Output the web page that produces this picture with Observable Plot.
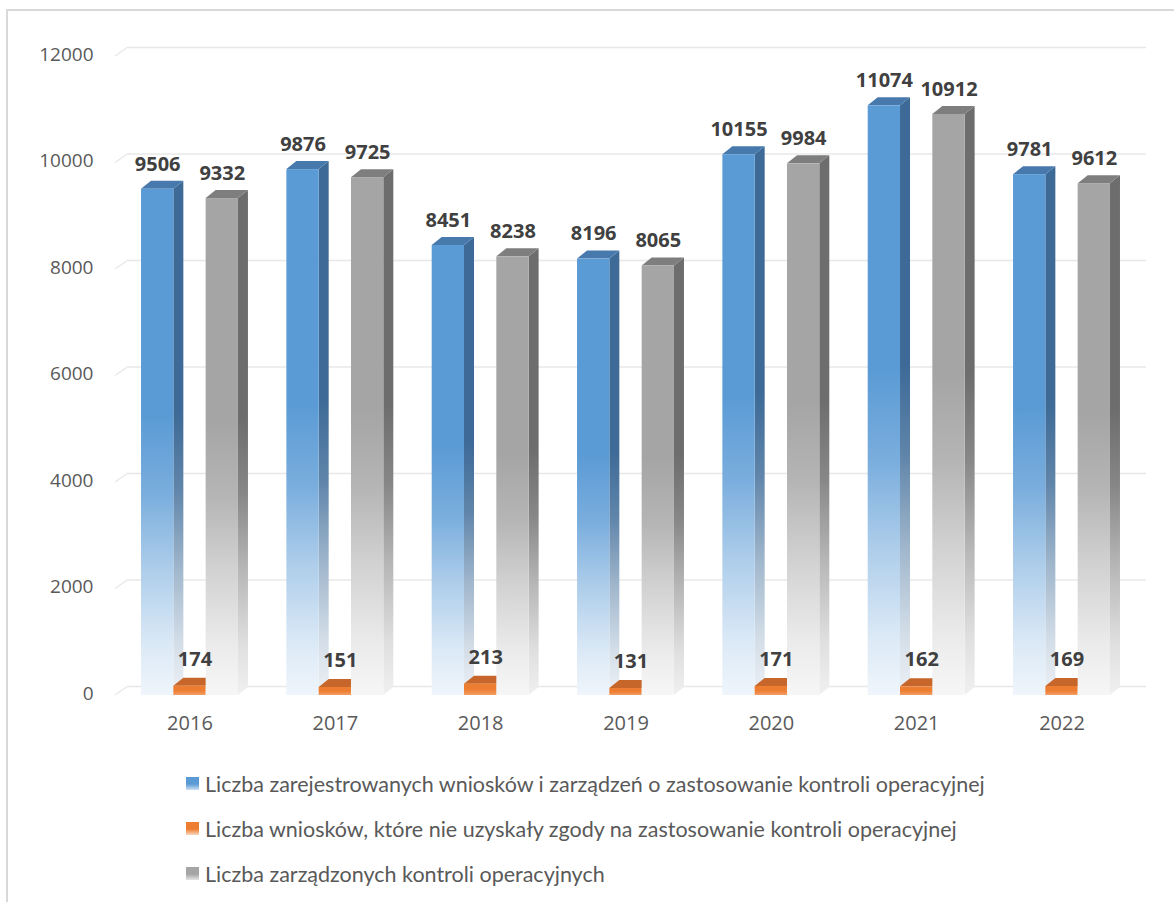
<!DOCTYPE html>
<html>
<head>
<meta charset="utf-8">
<script src="https://cdn.jsdelivr.net/npm/d3@7"></script>
<script src="https://cdn.jsdelivr.net/npm/@observablehq/plot@0.6"></script>
<style>
  html, body { margin: 0; padding: 0; background: #fff; overflow: hidden; width: 1174px; height: 902px; }
  #frame { position: absolute; left: 6px; top: 9px; width: 1200px; height: 1000px; border: 2px solid #d9d9d9; box-sizing: border-box; }
  #chart { position: absolute; left: 0; top: 0; }
  #legend { position: absolute; left: 186px; top: 770px; font-family: Lato, 'Open Sans', sans-serif; font-size: 21.5px; color: #595959; }
  .row { position: absolute; left: 0; white-space: nowrap; display: flex; align-items: center; height: 27px; }
  .sw { width: 13px; height: 13px; margin-right: 6px; flex: none; }
</style>
</head>
<body>
<div id="frame"></div>
<svg width="0" height="0" style="position:absolute">
  <defs id="grads"></defs>
</svg>
<div id="chart"></div>
<div id="legend"></div>
<script>
// ---- data ----
const years = ["2016", "2017", "2018", "2019", "2020", "2021", "2022"];
const registered = [9506, 9876, 8451, 8196, 10155, 11074, 9781];
const refused = [174, 151, 213, 131, 171, 162, 169];
const ordered = [9332, 9725, 8238, 8065, 9984, 10912, 9612];
const yTicks = [0, 2000, 4000, 6000, 8000, 10000, 12000];
const seriesNames = [
  "Liczba zarejestrowanych wniosków i zarządzeń o zastosowanie kontroli operacyjnej",
  "Liczba wniosków, które nie uzyskały zgody na zastosowanie kontroli operacyjnej",
  "Liczba zarządzonych kontroli operacyjnych"
];
const seriesColors = ["#5b9bd5", "#ed7d31", "#a5a5a5"];
const sideColors = ["#3d6a97", "#b65d22", "#6d6d6d"];
const topColors = ["#4879ad", "#c6662a", "#7e7e7e"];

// ---- gradients ----
const defs = d3.select("#grads");
function addGrad(id, color, stops) {
  const g = defs.append("linearGradient").attr("id", id)
    .attr("x1", 0).attr("y1", 0).attr("x2", 0).attr("y2", 1);
  for (const [off, t] of stops) {
    g.append("stop").attr("offset", off)
      .attr("stop-color", d3.interpolateRgb("#ffffff", color)(t));
  }
}
const fadeStops = [[0, 1], [0.45, 1], [0.6, 0.82], [0.75, 0.5], [0.9, 0.22], [1, 0.1]];
const orStops = [[0, 1], [0.5, 1], [1, 0.75]];
addGrad("gf0", seriesColors[0], fadeStops);
addGrad("gs0", sideColors[0], fadeStops);
addGrad("gf1", seriesColors[1], orStops);
addGrad("gs1", sideColors[1], orStops);
addGrad("gf2", seriesColors[2], fadeStops);
addGrad("gs2", sideColors[2], fadeStops);

// ---- rows ----
const seriesValues = [registered, refused, ordered];
const rows = seriesValues.map(vals => years.map((year, i) => ({year, value: vals[i]})));

// ---- geometry ----
const W = 1174, H = 760;
const xRange = [116.8, 1134.2];
const padIn = 0.333, padOut = 0.1667;
const step = (xRange[1] - xRange[0]) / (years.length - padIn + 2 * padOut);
const bw = step * (1 - padIn) / 3;
const DX = 10, DY = -8;

function faces(k) {
  return (index, scales) => {
    const g = d3.create("svg:g");
    const b = (scales.x.bandwidth ? scales.x.bandwidth() : bw * 3) / 3;
    for (const d of rows[k]) {
      const xl = scales.x(d.year) + k * b, xr = xl + b;
      const yt = scales.y(d.value), yb = scales.y(0);
      g.append("polygon")
        .attr("points", [[xr, yt], [xr + DX, yt + DY], [xr + DX, yb + DY], [xr, yb]].join(" "))
        .attr("fill", `url(#gs${k})`);
      g.append("polygon")
        .attr("points", [[xl, yt], [xl + DX, yt + DY], [xr + DX, yt + DY], [xr, yt]].join(" "))
        .attr("fill", topColors[k]);
    }
    return g.node();
  };
}

function slants(index, scales) {
  const g = d3.create("svg:g");
  for (const v of yTicks) {
    const y = scales.y(v);
    g.append("line").attr("x1", 115).attr("y1", y).attr("x2", 128).attr("y2", y + DY - 1)
      .attr("stroke", "#e8e8e8").attr("stroke-width", 1.4);
  }
  return g.node();
}

const barMarks = [];
for (let k = 0; k < 3; k++) {
  barMarks.push(faces(k));
  barMarks.push(Plot.barY(rows[k], {
    x: "year", y: "value",
    fill: `url(#gf${k})`,
    insetLeft: k * bw, insetRight: (2 - k) * bw
  }));
}

const labelDx = [-bw, 5, bw];
const labelDy = [-25, -27, -25];

const chart = Plot.plot({
  width: W,
  height: H,
  marginLeft: 128,
  marginRight: 28,
  marginTop: 0,
  marginBottom: 0,
  style: {fontFamily: "'Open Sans', sans-serif", background: "transparent", overflow: "visible"},
  x: {type: "band", domain: years, range: xRange, paddingInner: padIn, paddingOuter: padOut, round: false, axis: null},
  y: {domain: [0, 12000], range: [695, 56], axis: null},
  marks: [
    Plot.ruleY(yTicks, {dy: DY - 1, stroke: "#e8e8e8", strokeWidth: 1.4}),
    slants,
    ...barMarks,
    ...[0, 1, 2].map(k => Plot.text(rows[k], {
      x: "year", y: "value", text: d => String(d.value),
      dx: labelDx[k], dy: labelDy[k],
      fontSize: 20, fontWeight: "bold", fill: "#404040"
    })),
    Plot.text(yTicks, {
      y: d => d, text: d => String(d), frameAnchor: "left",
      dx: -35, dy: -2, textAnchor: "end", fontSize: 19, fill: "#595959"
    }),
    Plot.text(years, {
      x: d => d, y: () => 0, text: d => d, dy: 28, fontSize: 20, fill: "#595959"
    })
  ]
});
document.getElementById("chart").appendChild(chart);

// ---- legend ----
const legend = d3.select("#legend");
const rowTops = [0, 45, 90];
seriesNames.forEach((name, k) => {
  const r = legend.append("div").attr("class", "row").style("top", (rowTops[k]) + "px");
  r.append("div").attr("class", "sw")
    .style("background", `linear-gradient(to bottom, ${seriesColors[k]} 0%, ${seriesColors[k]} 55%, ${d3.interpolateRgb("#fff", seriesColors[k])(0.3)} 100%)`);
  r.append("span").text(name);
});
</script>
</body>
</html>
